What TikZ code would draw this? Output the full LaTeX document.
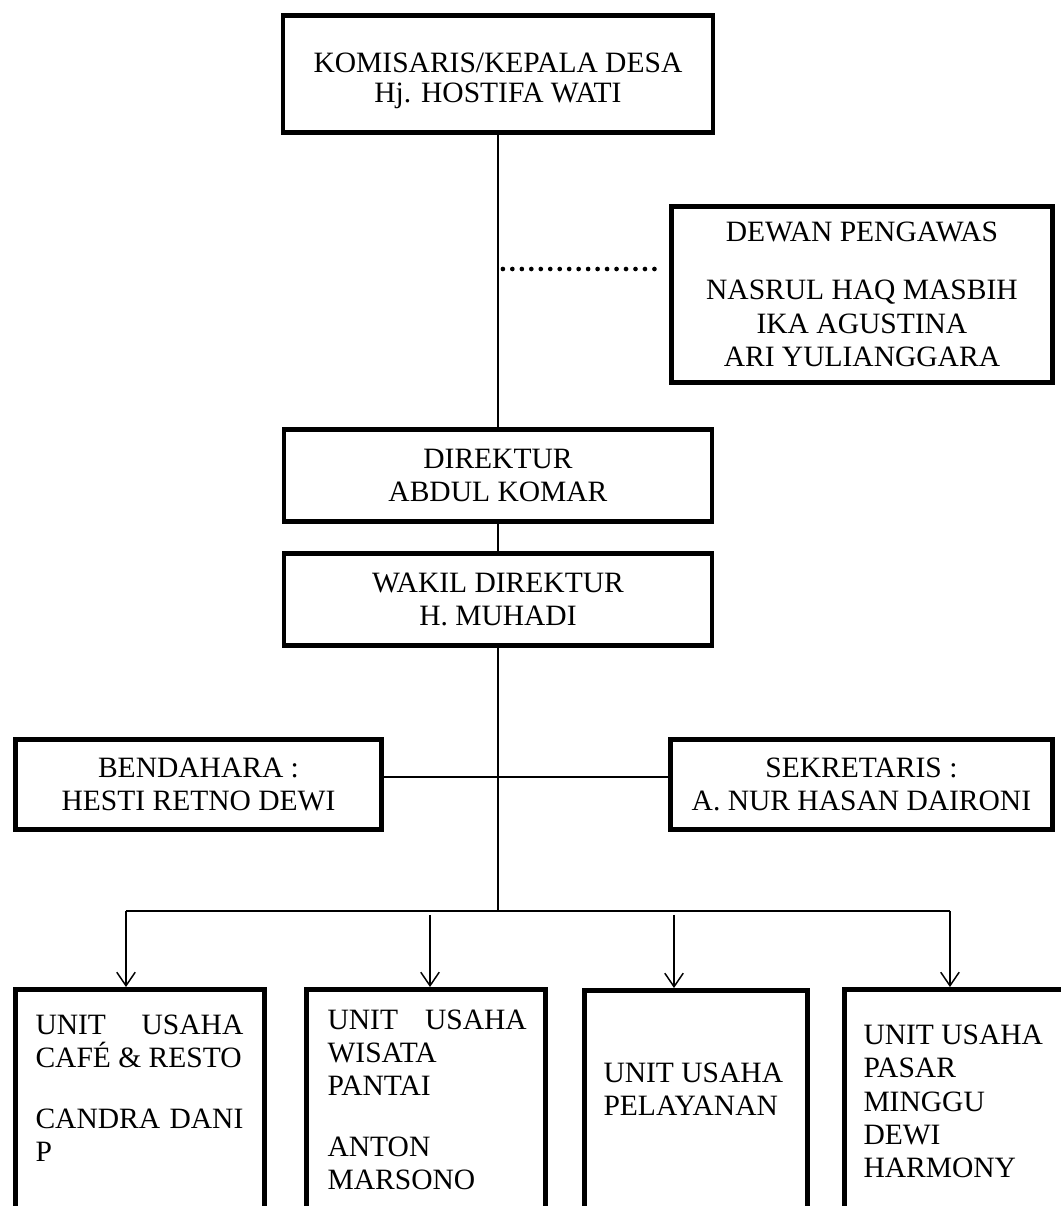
\documentclass[tikz,border=0pt]{standalone}
\usepackage{fontspec}
\setmainfont{Liberation Serif}
\usetikzlibrary{positioning,arrows.meta}
\newcommand{\spreadln}[2]{\makebox[#1][s]{#2}}

\begin{document}
\begin{tikzpicture}[bumdes box/.style={draw, line width=2pt, rectangle, align=center, inner sep=0pt},
    unit box/.style={draw, line width=2pt, rectangle, minimum height=4cm, inner sep=0pt},
    unit text/.style={anchor=north west, align=left, inner sep=0pt},
    link/.style={line width=1.1pt},
    dots/.style={line width=1.9pt, line cap=round, dash pattern=on 0pt off 3.85pt},
    arr/.style={line width=0.6pt, -{Straight Barb[length=5.5pt,width=7.5pt]}},
    font=\fontsize{12}{13.6}\selectfont]
    \useasboundingbox (0,0) rectangle (15.157,-17.229);
    \clip (0,0) rectangle (15.157,-17.229);

    \node[bumdes box, minimum width=6.143cm, minimum height=1.671cm] (kom) at (7.114,-1.057) {\rule{0pt}{13.5pt}KOMISARIS/KEPALA DESA\\[-1.5pt] Hj. HOSTIFA WATI};
    \node[bumdes box, minimum width=5.443cm, minimum height=2.514cm] (dewan) at (12.314,-4.207) {DEWAN PENGAWAS\\[10pt] NASRUL HAQ MASBIH\\ IKA AGUSTINA\\ ARI YULIANGGARA};
    \node[bumdes box, minimum width=6.114cm, minimum height=1.314cm] (dir) at (7.114,-6.793) {DIREKTUR\\ ABDUL KOMAR};
    \node[bumdes box, minimum width=6.114cm, minimum height=1.314cm] (wakil) at (7.114,-8.564) {WAKIL DIREKTUR\\ H. MUHADI};
    \node[bumdes box, minimum width=5.229cm, minimum height=1.286cm] (bend) at (2.836,-11.207) {BENDAHARA :\\ HESTI RETNO DEWI};
    \node[bumdes box, minimum width=5.457cm, minimum height=1.286cm] (sekr) at (12.307,-11.207) {SEKRETARIS :\\ A. NUR HASAN DAIRONI};

    % unit usaha
    \node[unit box, minimum width=3.557cm] (u1) at (2.0,-16.136) {};
    \node[unit box, minimum width=3.414cm] (u2) at (6.086,-16.136) {};
    \node[unit box, minimum width=3.186cm] (u3) at (9.943,-16.15) {};
    \node[unit box, minimum width=3.614cm] (u4) at (13.871,-16.136) {};
    \node[unit text] (t1) at ([shift={(0.314,-0.386)}]u1.north west) {\spreadln{84.5pt}{UNIT USAHA}\\ CAFÉ \& RESTO\\[11pt] \spreadln{84.5pt}{CANDRA DANI}\\ P};
    \node[unit text] (t2) at ([shift={(0.329,-0.314)}]u2.north west) {\spreadln{81pt}{UNIT USAHA}\\ WISATA\\ PANTAI\\[11pt] ANTON\\ MARSONO};
    \node[unit text] (t3) at ([shift={(0.3,-1.057)}]u3.north west) {UNIT USAHA\\ PELAYANAN};
    \node[unit text] (t4) at ([shift={(0.3,-0.529)}]u4.north west) {UNIT USAHA\\ PASAR\\ MINGGU\\ DEWI\\ HARMONY};

    \coordinate (pg) at (7.114,-3.843);
    \coordinate (bs) at (7.114,-11.1);
    \coordinate (br) at (7.114,-13.014);
    \coordinate (a1) at (1.8,-13.014);
    \coordinate (a2) at (6.143,-13.07);
    \coordinate (a3) at (9.629,-13.07);
    \coordinate (a4) at (13.571,-13.014);

    \draw[link] (kom) -- (dir);
    \draw[link] (dir) -- (wakil);
    \draw[dots] ([xshift=2pt]pg) -- ([xshift=-4pt]pg -| dewan.west);
    \draw[link] (wakil) -- (br);
    \draw[link] (bend.east |- bs) -- (sekr.west |- bs);
    \draw[link] (a1) -- (a4);
    \foreach \i in {1,...,4}
        \draw[arr] (a\i) -- (a\i |- u\i.north);

\end{tikzpicture}
\end{document}
